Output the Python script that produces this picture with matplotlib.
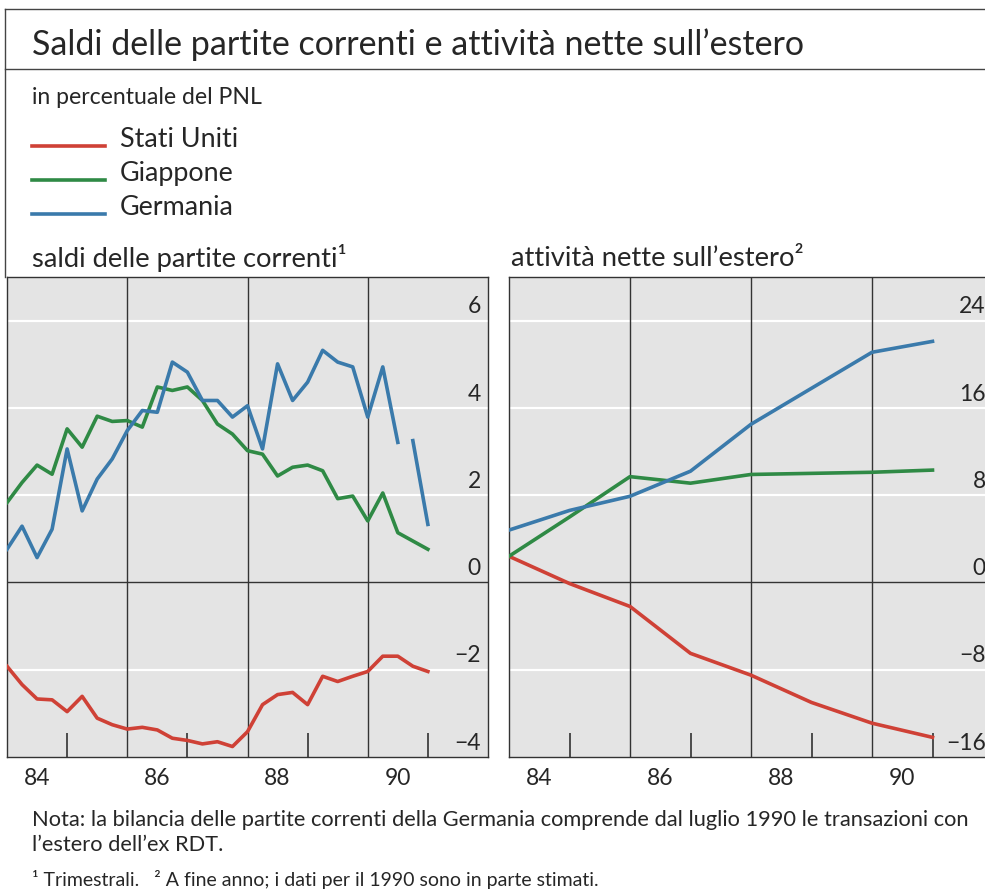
import matplotlib
matplotlib.use("Agg")
import matplotlib.pyplot as plt
import matplotlib.transforms as mtransforms
from matplotlib.lines import Line2D
import numpy as np

# ---------------- data ----------------
countries = ["Stati Uniti", "Giappone", "Germania"]
series_colors = ["#cf4136", "#2f8a45", "#3a7aab"]

# current account balances, quarterly, % of GNP (1984 .. end 1990)
us_ca = [-1.92, -2.34, -2.67, -2.69, -2.96, -2.61, -3.11, -3.26, -3.36, -3.32,
         -3.38, -3.57, -3.62, -3.70, -3.65, -3.76, -3.42, -2.80, -2.57, -2.52,
         -2.80, -2.15, -2.27, -2.15, -2.04, -1.69, -1.69, -1.92, -2.04]
jp_ca = [1.83, 2.29, 2.69, 2.48, 3.52, 3.10, 3.81, 3.69, 3.71, 3.56,
         4.48, 4.40, 4.48, 4.17, 3.63, 3.40, 3.02, 2.94, 2.44, 2.64,
         2.69, 2.56, 1.92, 1.98, 1.41, 2.05, 1.14, 0.95, 0.76]
de_ca = [0.76, 1.29, 0.57, 1.22, 3.06, 1.64, 2.37, 2.83, 3.48, 3.94,
         3.90, 5.05, 4.82, 4.17, 4.17, 3.79, 4.05, 3.06, 5.01, 4.17,
         4.59, 5.32, 5.05, 4.94, 3.79, 4.94, 3.21, 3.25, 1.33]
de_break = 27  # series break (from July 1990 incl. former GDR)
ca_start_year = 1984.0
quarters_per_year = 4

# net foreign assets, end of year, % of GNP (end 1983 .. end 1990)
nfa_years = [1984, 1985, 1986, 1987, 1988, 1989, 1990, 1991]
us_nfa = [2.4, -0.1, -2.2, -6.5, -8.5, -11.0, -12.9, -14.2]
jp_nfa = [2.4, 6.0, 9.7, 9.1, 9.9, 10.0, 10.1, 10.3]
de_nfa = [4.8, 6.6, 7.9, 10.2, 14.5, 17.8, 21.1, 22.1]

year_labels = ["84", "86", "88", "90"]
year_label_pos = [1984.5, 1986.5, 1988.5, 1990.5]
left_yticks = [6, 4, 2, 0, -2, -4]
right_yticks = [24, 16, 8, 0, -8, -16]

# ---------------- style ----------------
W, H, DPI = 985, 895, 100
FONT = ["Lato", "DejaVu Sans"]
plt.rcParams["font.family"] = FONT
TXT = "#262626"
BG = "#e4e4e4"
LW = 2.6


def px(x, y):
    return x / W, 1 - y / H


fig = plt.figure(figsize=(W / DPI, H / DPI), dpi=DPI)
fig.patch.set_facecolor("white")

# frame lines of the box
fig.add_artist(Line2D([5 / W, 1.0], [1 - 10 / H, 1 - 10 / H], color="#444444", lw=1.0))
fig.add_artist(Line2D([5 / W, 1.0], [1 - 70 / H, 1 - 70 / H], color="#444444", lw=1.0))
fig.add_artist(Line2D([5 / W, 5 / W], [1 - 10 / H, 1 - 278 / H], color="#444444", lw=1.0))

fig.text(*px(32, 45), "Saldi delle partite correnti e attività nette sull’estero",
         fontsize=24.5, color=TXT, va="center", ha="left")
fig.text(*px(32, 98), "in percentuale del PNL", fontsize=16.6, color=TXT, va="center")
fig.text(*px(32, 258), "saldi delle partite correnti¹", fontsize=19.7, color=TXT, va="center")
fig.text(*px(511, 258), "attività nette sull’estero²", fontsize=19.7, color=TXT, va="center")

fig.text(*px(32, 820),
         "Nota: la bilancia delle partite correnti della Germania comprende dal luglio 1990 le transazioni con",
         fontsize=15.75, color=TXT, va="center")
fig.text(*px(32, 845), "l’estero dell’ex RDT.", fontsize=15.75, color=TXT, va="center")
fig.text(*px(32, 880),
         "¹ Trimestrali.   ² A fine anno; i dati per il 1990 sono in parte stimati.",
         fontsize=14, color=TXT, va="center")

# legend (manual, line at text baseline as in the original)
legend_rows_y = [147, 181, 215]
for name, col, yy in zip(countries, series_colors, legend_rows_y):
    fig.add_artist(Line2D([32 / W, 105 / W], [1 - yy / H, 1 - yy / H], color=col, lw=LW))
    fig.text(*px(120, yy), name, fontsize=19.4, color=TXT, va="baseline", ha="left")

axL = fig.add_axes([7 / W, (H - 758) / H, 481 / W, 480 / H])
axR = fig.add_axes([509 / W, (H - 758) / H, 484 / W, 480 / H])


def style_axes(ax, ylim, yticks):
    ax.set_facecolor(BG)
    ax.set_xlim(1984, 1992)
    ax.set_ylim(*ylim)
    for s in ax.spines.values():
        s.set_color("#333333")
        s.set_linewidth(1.0)
    ax.set_yticks([])
    ax.set_xticks(year_label_pos)
    ax.set_xticklabels(year_labels)
    ax.set_xticks([1985, 1987, 1989, 1991], minor=True)
    ax.tick_params(axis="x", which="major", length=0, pad=7, labelsize=16.5, labelcolor=TXT)
    ax.tick_params(axis="x", which="minor", direction="in", length=17, width=1.1, color="#222222")
    for v in yticks:
        if v == 0:
            ax.axhline(v, color="#333333", lw=1.0, zorder=1)
        elif v != ylim[0]:
            ax.axhline(v, color="white", lw=1.6, zorder=1)
    for xv in [1986, 1988, 1990]:
        ax.axvline(xv, color="#333333", lw=1.0, zorder=1)
    off = mtransforms.offset_copy(ax.transData, fig=fig, x=0, y=6, units="points")
    for v in yticks:
        lab = str(v).replace("-", "−")
        ax.text(1991.88, v, lab, ha="right", va="baseline", fontsize=16.5,
                color=TXT, transform=off, clip_on=False)


style_axes(axL, (-4, 7), left_yticks)
style_axes(axR, (-16, 28), right_yticks)

# left panel: quarterly current account
xq = ca_start_year + np.arange(len(us_ca)) / quarters_per_year
axL.plot(xq, us_ca, color=series_colors[0], lw=LW, zorder=3)
axL.plot(xq, jp_ca, color=series_colors[1], lw=LW, zorder=3)
axL.plot(xq[:de_break], de_ca[:de_break], color=series_colors[2], lw=LW, zorder=4)
axL.plot(xq[de_break:], de_ca[de_break:], color=series_colors[2], lw=LW, zorder=4)

# right panel: net foreign assets
axR.plot(nfa_years, us_nfa, color=series_colors[0], lw=LW, zorder=3)
axR.plot(nfa_years, jp_nfa, color=series_colors[1], lw=LW, zorder=3)
axR.plot(nfa_years, de_nfa, color=series_colors[2], lw=LW, zorder=4)

fig.savefig("out.png", dpi=DPI, facecolor="white")
